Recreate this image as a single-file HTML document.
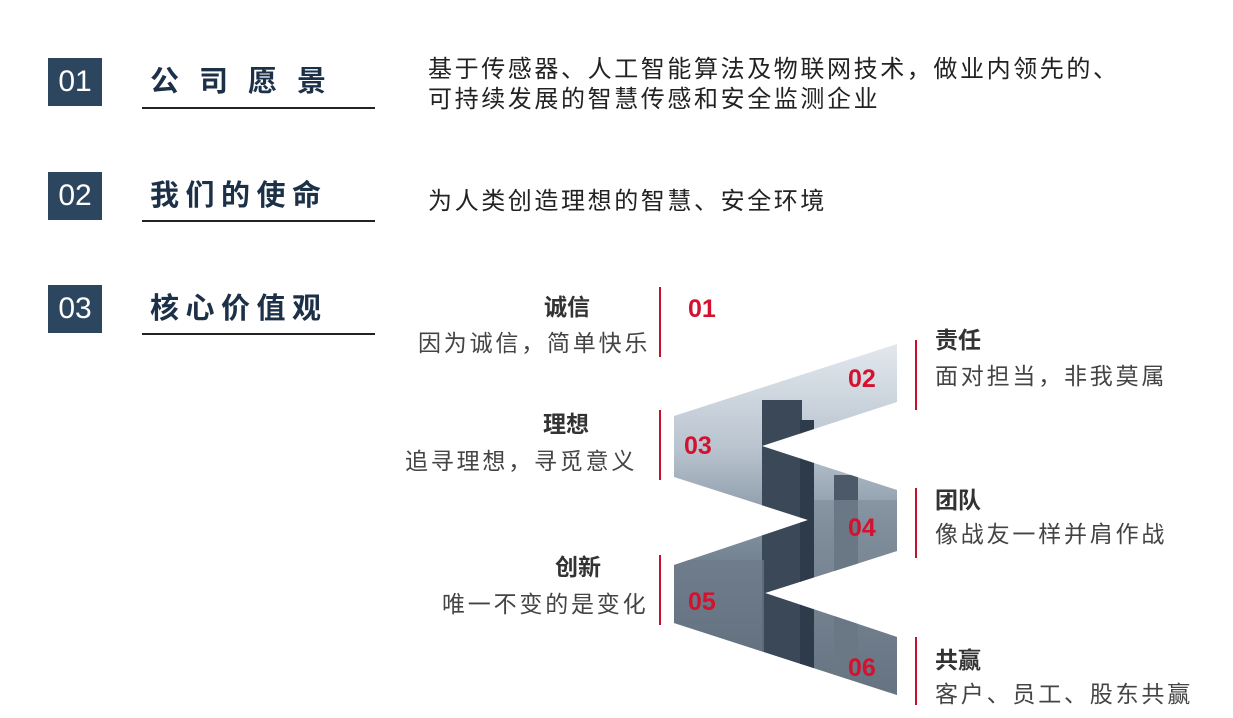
<!DOCTYPE html>
<html><head><meta charset="utf-8"><style>
body{margin:0;width:1233px;height:718px;background:#fff;position:relative;overflow:hidden;font-family:"Liberation Sans","Noto Sans CJK SC",sans-serif}
.a{position:absolute;white-space:nowrap}
.box{position:absolute;left:48px;width:54px;height:48px;background:#2d4660;color:#fff;font-size:30px;line-height:48px;text-align:center}
.tt{position:absolute;left:150px;font-size:29px;font-weight:bold;color:#1c3048;line-height:40px}
.ul{position:absolute;left:142px;width:233px;height:2px;background:#222}
.tx{position:absolute;left:428px;font-size:24px;color:#222;line-height:30px;letter-spacing:2.6px}
.h{font-size:23px;font-weight:bold;color:#333;line-height:30px}
.s{font-size:23px;color:#444;line-height:30px;letter-spacing:2.8px}
.n{font-size:25px;font-weight:bold;color:#d4112f;line-height:30px}
.rl{position:absolute;width:2px;background:#c8102e}
</style></head><body>
<div class="box" style="top:58px">01</div>
<div class="tt" style="top:62px;letter-spacing:20px">公司愿景</div>
<div class="ul" style="top:107px"></div>
<div class="tx" style="top:55px">基于传感器、人工智能算法及物联网技术，做业内领先的、<br>可持续发展的智慧传感和安全监测企业</div>

<div class="box" style="top:172px">02</div>
<div class="tt" style="top:176px;letter-spacing:6.5px">我们的使命</div>
<div class="ul" style="top:220px"></div>
<div class="tx" style="top:187px">为人类创造理想的智慧、安全环境</div>

<div class="box" style="top:285px">03</div>
<div class="tt" style="top:289px;letter-spacing:6.5px">核心价值观</div>
<div class="ul" style="top:333px"></div>

<svg class="a" style="left:0;top:0" width="1233" height="718">
<defs>
<linearGradient id="g" x1="0" y1="0" x2="0" y2="1">
<stop offset="0" stop-color="#e4e9ef"/><stop offset="0.3" stop-color="#b9c4cf"/><stop offset="0.55" stop-color="#7d8c9b"/><stop offset="1" stop-color="#3e4c5c"/></linearGradient>
<clipPath id="c"><polygon points="897,344 674,416 674,477 808,520 674,565 674,623 897,695 897,637 765,593 897,551 897,490 762,446 897,402"/></clipPath>
</defs>
<g clip-path="url(#c)">
<rect x="670" y="340" width="230" height="360" fill="url(#g)"/>
<rect x="762" y="400" width="40" height="300" fill="#3a4858"/>
<rect x="800" y="420" width="14" height="280" fill="#2e3b4a"/>
<rect x="834" y="475" width="24" height="200" fill="#4b5968"/>
<rect x="674" y="560" width="90" height="140" fill="#6d7b89" opacity="0.7"/>
<rect x="814" y="500" width="83" height="200" fill="#7f8c99" opacity="0.6"/>
</g>
</svg>

<div class="rl" style="left:659px;top:287px;height:70px"></div>
<div class="rl" style="left:915px;top:340px;height:70px"></div>
<div class="rl" style="left:659px;top:410px;height:70px"></div>
<div class="rl" style="left:915px;top:488px;height:70px"></div>
<div class="rl" style="left:659px;top:555px;height:70px"></div>
<div class="rl" style="left:915px;top:637px;height:68px"></div>

<div class="a h" style="left:544px;top:292px">诚信</div>
<div class="a s" style="left:418px;top:328px">因为诚信，简单快乐</div>
<div class="a h" style="left:543px;top:409px">理想</div>
<div class="a s" style="left:405px;top:446px">追寻理想，寻觅意义</div>
<div class="a h" style="left:555px;top:552px">创新</div>
<div class="a s" style="left:442px;top:589px">唯一不变的是变化</div>

<div class="a h" style="left:935px;top:325px">责任</div>
<div class="a s" style="left:935px;top:361px">面对担当，非我莫属</div>
<div class="a h" style="left:935px;top:485px">团队</div>
<div class="a s" style="left:935px;top:519px">像战友一样并肩作战</div>
<div class="a h" style="left:935px;top:645px">共赢</div>
<div class="a s" style="left:935px;top:679px">客户、员工、股东共赢</div>

<div class="a n" style="left:688px;top:294px">01</div>
<div class="a n" style="left:848px;top:364px">02</div>
<div class="a n" style="left:684px;top:431px">03</div>
<div class="a n" style="left:848px;top:513px">04</div>
<div class="a n" style="left:688px;top:587px">05</div>
<div class="a n" style="left:848px;top:653px">06</div>
</body></html>
